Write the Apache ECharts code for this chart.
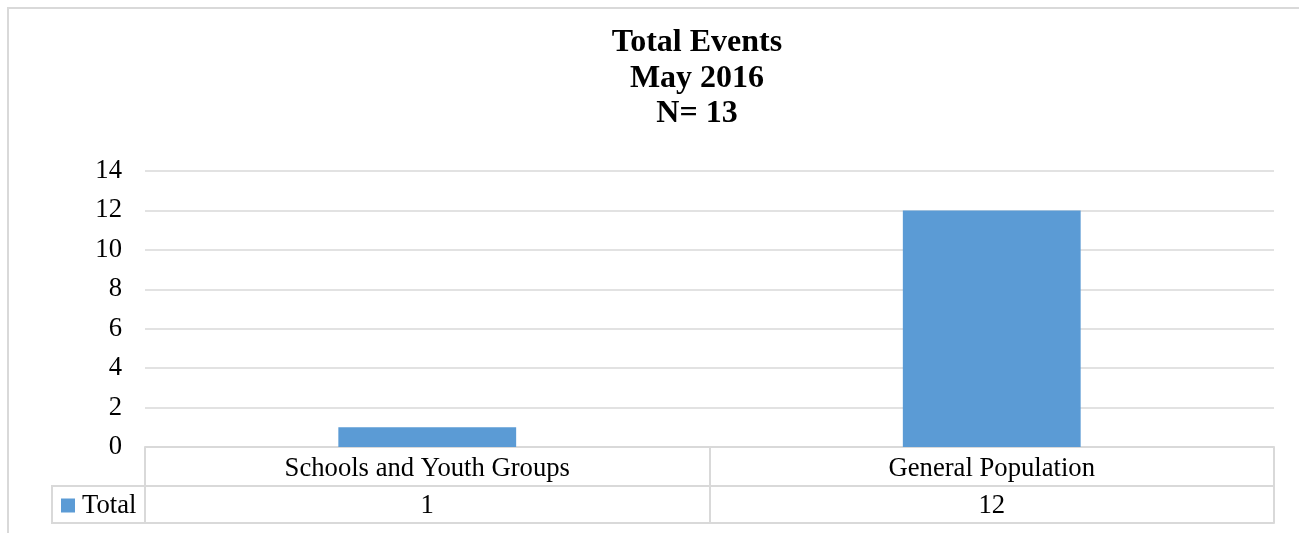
<!DOCTYPE html>
<html>
<head>
<meta charset="utf-8">
<script src="https://cdn.jsdelivr.net/npm/echarts@6/dist/echarts.min.js"></script>
<style>
  html, body { margin: 0; padding: 0; background: #fff; }
  #chart { width: 1299px; height: 533px; }
</style>
</head>
<body>
<div id="chart"></div>
<script>
// Event counts for May 2016
const categories = ['Schools and Youth Groups', 'General Population'];
const totals = [1, 12];
const seriesName = 'Total';
const titleLines = ['Total Events', 'May 2016', 'N= 13'];
const yTicks = { min: 0, max: 14, step: 2 };

const FONT = '"Liberation Serif", "Times New Roman", serif';
const LINE = '#d9d9d9';
const BAR = '#5b9bd5';
const LABEL_SIZE = 26.67;

const chart = echarts.init(document.getElementById('chart'), null, { renderer: 'canvas' });

const grid = { left: 145, right: 25, top: 171, bottom: 86 };
const rowH = 38;

chart.setOption({
  animation: false,
  backgroundColor: '#fff',
  title: {
    text: titleLines.join('\n'),
    left: 692,
    top: 20,
    textAlign: 'center',
    textStyle: { fontFamily: FONT, fontWeight: 'bold', fontSize: 32, lineHeight: 35.5, color: '#000' }
  },
  legend: {
    data: [seriesName],
    left: 61,
    top: 492,
    padding: 0,
    itemWidth: 14,
    itemHeight: 14,
    itemGap: 4,
    icon: 'rect',
    textStyle: { fontFamily: FONT, fontSize: LABEL_SIZE, color: '#000', padding: [0, 0, 0, 2] }
  },
  grid: grid,
  xAxis: [
    {
      // category row of the data table
      type: 'category',
      data: categories,
      position: 'bottom',
      axisLine: { show: true, lineStyle: { color: LINE, width: 2 } },
      axisTick: { show: true, length: rowH * 2, interval: 0, lineStyle: { color: LINE, width: 2 } },
      axisLabel: { fontFamily: FONT, fontSize: LABEL_SIZE, color: '#000', margin: 8, interval: 0 }
    },
    {
      // value row of the data table
      type: 'category',
      data: totals.map(String),
      position: 'bottom',
      offset: rowH + 1,
      axisLine: { show: true, lineStyle: { color: LINE, width: 2 } },
      axisTick: { show: false },
      axisLabel: { fontFamily: FONT, fontSize: LABEL_SIZE, color: '#000', margin: 6, interval: 0 }
    },
    {
      // bottom edge of the data table
      type: 'category',
      data: categories,
      position: 'bottom',
      offset: rowH * 2,
      axisLine: { show: true, lineStyle: { color: LINE, width: 2 } },
      axisTick: { show: false },
      axisLabel: { show: false }
    }
  ],
  yAxis: {
    type: 'value',
    min: yTicks.min,
    max: yTicks.max,
    interval: yTicks.step,
    axisLine: { show: false },
    axisTick: { show: false },
    axisLabel: { fontFamily: FONT, fontSize: LABEL_SIZE, color: '#000', margin: 23, verticalAlign: 'middle', padding: [7, 0, 0, 0] },
    splitLine: { lineStyle: { color: LINE, width: 1.5 } }
  },
  series: [{
    name: seriesName,
    type: 'bar',
    xAxisIndex: 0,
    data: totals,
    barWidth: '31.5%',
    itemStyle: { color: BAR }
  }],
  graphic: [
    {
      // outer chart frame
      type: 'rect',
      shape: { x: 8, y: 8, width: 1320, height: 560 },
      style: { fill: null, stroke: LINE, lineWidth: 2 },
      silent: true
    },
    {
      // legend cell of the data table
      type: 'rect',
      shape: { x: 52, y: 533 - grid.bottom + rowH + 1, width: 145 - 52, height: rowH - 1 },
      style: { fill: null, stroke: LINE, lineWidth: 2 },
      silent: true
    }
  ]
});
</script>
</body>
</html>
